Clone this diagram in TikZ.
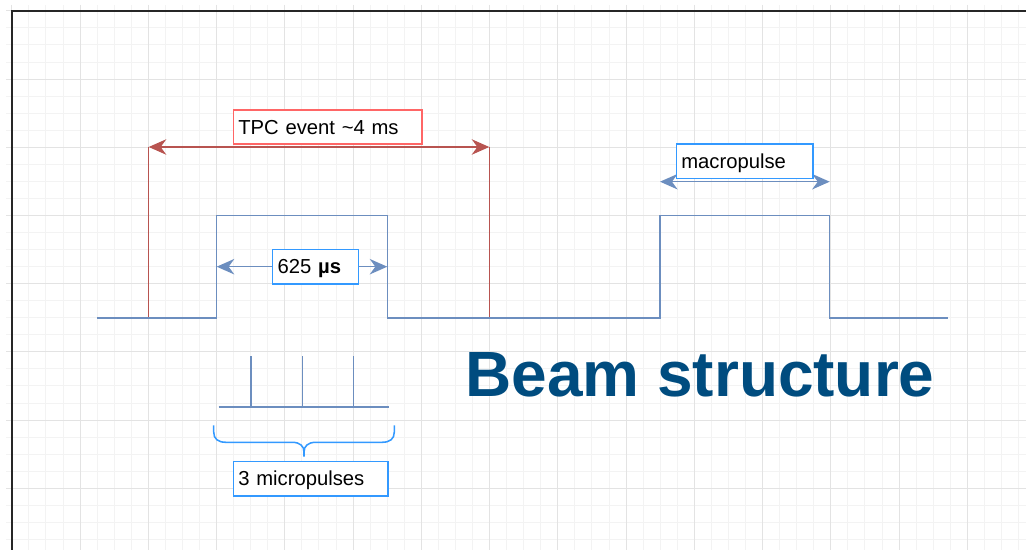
\documentclass[tikz,border=0pt]{standalone}
\usepackage{fontspec}
\setmainfont{Liberation Sans}
\usetikzlibrary{arrows.meta}
\definecolor{pulseblue}{HTML}{6C8EBF}
\definecolor{eventred}{HTML}{B85450}
\definecolor{boxred}{HTML}{FF6666}
\definecolor{boxblue}{HTML}{3399FF}
\definecolor{titleblue}{HTML}{004C7F}
\definecolor{gridminor}{HTML}{F3F3F3}
\definecolor{gridmajor}{HTML}{E3E3E3}
\tikzset{
    wave/.style={draw=pulseblue, line width=1.1pt},
    span/.style={
        {Stealth[length=12.5pt,width=11pt,inset=4pt]}-{Stealth[length=12.5pt,width=11pt,inset=4pt]},
        line width=1.1pt
    },
    lbl/.style={
        draw=#1, fill=white, line width=1.1pt,
        inner xsep=0.125cm, inner ysep=0pt,
        minimum height=0.8625cm, align=left,
        text height=11pt, text depth=1pt,
        font=\fontsize{14.4}{16}\selectfont
    }
}
\begin{document}
\begin{tikzpicture}[x=0.025cm, y=-0.025cm]
    \useasboundingbox (0,0) rectangle (1026,550);
    \foreach \i in {0,...,59} \draw[gridminor, line width=0.6pt] (11.75+17.0625*\i,5) -- (11.75+17.0625*\i,550);
    \foreach \j in {0,...,31} \draw[gridminor, line width=0.6pt] (6,10.8+17.05*\j) -- (1026,10.8+17.05*\j);
    \foreach \i in {0,...,14} \draw[gridmajor, line width=0.6pt] (11.75+68.25*\i,5) -- (11.75+68.25*\i,550);
    \foreach \j in {0,...,7} \draw[gridmajor, line width=0.6pt] (6,10.8+68.2*\j) -- (1026,10.8+68.2*\j);
    \draw[line width=1.5pt, black!85] (1026,11) -- (12,11) -- (12,550);

    \coordinate (w0) at (97,318);
    \coordinate (a1) at (216.7,318);
    \coordinate (a2) at (216.7,215.7);
    \coordinate (a3) at (387.3,215.7);
    \coordinate (a4) at (387.3,318);
    \coordinate (b1) at (660,318);
    \coordinate (b2) at (660,215.7);
    \coordinate (b3) at (829.7,215.7);
    \coordinate (b4) at (829.7,318);
    \coordinate (w1) at (948,318);
    \coordinate (e0) at (148.7,318);
    \coordinate (e1) at (148.7,147);
    \coordinate (e2) at (489.3,147);
    \coordinate (e3) at (489.3,318);
    \coordinate (d0) at (216.7,266.7);
    \coordinate (d1) at (387.3,266.7);
    \coordinate (m0) at (660,181.7);
    \coordinate (m1) at (829.7,181.7);

    \draw[eventred, line width=1.1pt] (e0) -- (e1) (e2) -- (e3);
    \draw[wave] (w0) -- (a1) -- (a2) -- (a3) -- (a4) -- (b1) -- (b2) -- (b3) -- (b4) -- (w1);
    \draw[span, eventred] (e1) -- (e2);
    \draw[span, pulseblue] (d0) -- (d1);
    \draw[span, pulseblue] (m0) -- (m1);

    \draw[wave] (218.7,407) -- (389,407);
    \foreach \x in {251,302.3,353.7} \draw[wave] (\x,407) -- (\x,356);

    \draw[boxblue, line width=1.1pt] (213.7,425.3) -- (213.7,432)
        .. controls (213.7,439) and (218,442.3) .. (226,442.3) -- (292,442.3)
        .. controls (300,442.3) and (304,446) .. (304,452) -- (304,456.7);
    \draw[boxblue, line width=1.1pt] (304,452)
        .. controls (304,446) and (308,442.3) .. (316,442.3) -- (382,442.3)
        .. controls (390,442.3) and (394.3,439) .. (394.3,432) -- (394.3,425.3);

    \node[lbl=boxred, text width=4.4675cm] (tpc) at (327.65,127) {TPC event \textasciitilde4 ms};
    \node[lbl=boxblue, text width=1.9cm] (dur) at (315.7,266.65) {625 \textbf{µs}};
    \node[lbl=boxblue, text width=3.16cm] (macro) at (744.5,161.15) {macropulse};
    \node[lbl=boxblue, text width=3.6175cm] (micro) at (310.65,478.85) {3 micropulses};
    \node[titleblue, anchor=base west, inner sep=0pt,
        font=\fontsize{45.5}{50}\selectfont\bfseries] (title) at (465,396.7) {Beam structure};
\end{tikzpicture}
\end{document}
